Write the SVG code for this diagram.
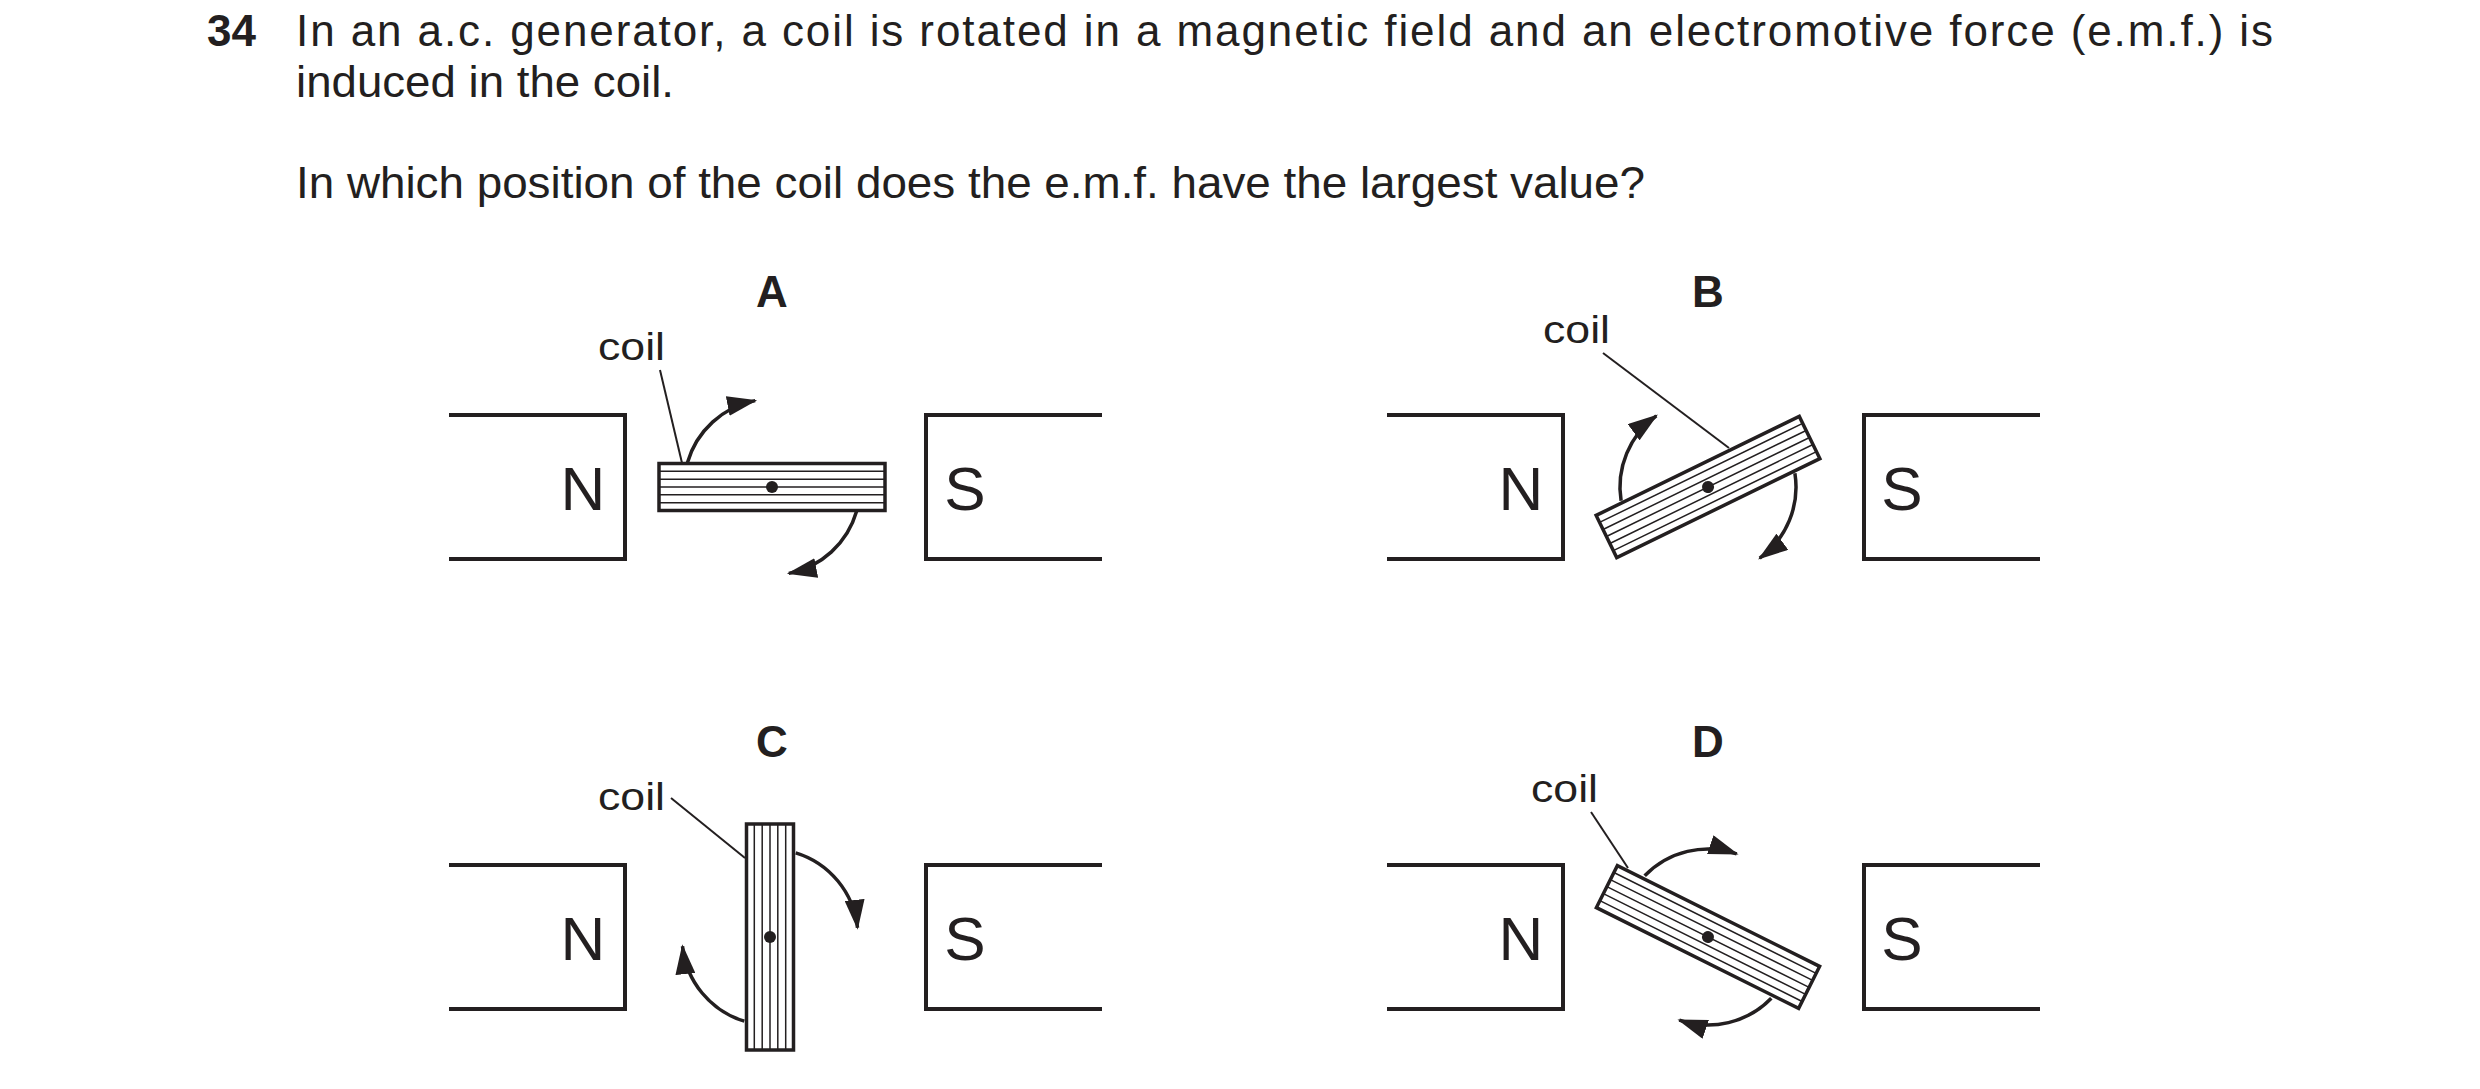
<svg xmlns="http://www.w3.org/2000/svg" xmlns:xlink="http://www.w3.org/1999/xlink" width="2480" height="1089" viewBox="0 0 2480 1089">
<style>
text{font-family:"Liberation Sans",Arial,sans-serif;fill:#231f20}
.body{font-size:44px}
.lbl{font-size:44px;font-weight:bold;text-anchor:middle}
.pole{font-size:62px;text-anchor:middle}
.coil{font-size:38px}
.mag{fill:none;stroke:#231f20;stroke-width:4}
.lead{stroke:#231f20;stroke-width:2;fill:none}
.arr{fill:none;stroke:#231f20;stroke-width:3.5;marker-end:url(#ah)}
</style>
<defs>
<marker id="ah" viewBox="0 0 30 20" refX="28" refY="10" markerWidth="30" markerHeight="20" markerUnits="userSpaceOnUse" orient="auto">
<path d="M0,0 L30,10 L0,20 Z" fill="#231f20"/>
</marker>
<g id="coilshape">
<rect x="-113" y="-23.5" width="226" height="47" fill="#fff" stroke="#231f20" stroke-width="3.5"/>
<path d="M-113,-15.7H113M-113,-7.8H113M-113,0H113M-113,7.8H113M-113,15.7H113" stroke="#231f20" stroke-width="1.5"/>
<circle r="6" fill="#231f20"/>
</g>
</defs>
<rect width="2480" height="1089" fill="#fff"/>
<g id="question">
<text x="207" y="46" class="body" font-weight="bold">34</text>
<text x="296" y="46" class="body" textLength="1977" lengthAdjust="spacing">In an a.c. generator, a coil is rotated in a magnetic field and an electromotive force (e.m.f.) is</text>
<text x="296" y="97" class="body" textLength="378" lengthAdjust="spacingAndGlyphs">induced in the coil.</text>
<text x="296" y="198" class="body" textLength="1349" lengthAdjust="spacingAndGlyphs">In which position of the coil does the e.m.f. have the largest value?</text>
</g>
<g id="diagramA">
<text x="772" y="307" class="lbl">A</text>
<path class="mag" d="M449,415H625V559H449"/><path class="mag" d="M1102,415H926V559H1102"/>
<text x="583" y="510" class="pole">N</text><text x="965" y="510" class="pole">S</text>
<g transform="translate(772,487)"><use xlink:href="#coilshape"/></g>
<text x="598" y="360" class="coil" textLength="67" lengthAdjust="spacingAndGlyphs">coil</text>
</g>
<g id="diagramB">
<text x="1708" y="307" class="lbl">B</text>
<path class="mag" d="M1387,415H1563V559H1387"/><path class="mag" d="M2040,415H1864V559H2040"/>
<text x="1521" y="510" class="pole">N</text><text x="1902" y="510" class="pole">S</text>
<g transform="translate(1708,487) rotate(-26)"><use xlink:href="#coilshape"/></g>
<text x="1543" y="343" class="coil" textLength="67" lengthAdjust="spacingAndGlyphs">coil</text>
</g>
<g id="diagramC">
<text x="772" y="757" class="lbl">C</text>
<path class="mag" d="M449,865H625V1009H449"/><path class="mag" d="M1102,865H926V1009H1102"/>
<text x="583" y="960" class="pole">N</text><text x="965" y="960" class="pole">S</text>
<g transform="translate(770,937) rotate(90)"><use xlink:href="#coilshape"/></g>
<text x="598" y="810" class="coil" textLength="67" lengthAdjust="spacingAndGlyphs">coil</text>
</g>
<g id="diagramD">
<text x="1708" y="757" class="lbl">D</text>
<path class="mag" d="M1387,865H1563V1009H1387"/><path class="mag" d="M2040,865H1864V1009H2040"/>
<text x="1521" y="960" class="pole">N</text><text x="1902" y="960" class="pole">S</text>
<g transform="translate(1708,937) rotate(26.5)"><use xlink:href="#coilshape"/></g>
<text x="1531" y="802" class="coil" textLength="67" lengthAdjust="spacingAndGlyphs">coil</text>
</g>
<g id="connectors">
<path class="lead" d="M660,370L682,463"/>
<path class="arr" d="M687.4,462.7A88,88 0 0 1 755.2,400.6"/>
<path class="arr" d="M856.6,511.3A88,88 0 0 1 788.8,573.4"/>
<path class="lead" d="M1603,353L1729,448"/>
<path class="arr" d="M1621.1,500.8A88,88 0 0 1 1656.3,415.8"/>
<path class="arr" d="M1794.9,473.2A88,88 0 0 1 1759.7,558.2"/>
<path class="lead" d="M671,798L745,858"/>
<path class="arr" d="M795.7,852.8A88,88 0 0 1 857.5,927.8"/>
<path class="arr" d="M744.3,1021.2A88,88 0 0 1 682.5,946.2"/>
<path class="lead" d="M1591,812L1628,868"/>
<path class="arr" d="M1644.7,875.8A88,88 0 0 1 1736.7,853.8"/>
<path class="arr" d="M1771.3,998.2A88,88 0 0 1 1679.3,1020.2"/>
</g>
</svg>
